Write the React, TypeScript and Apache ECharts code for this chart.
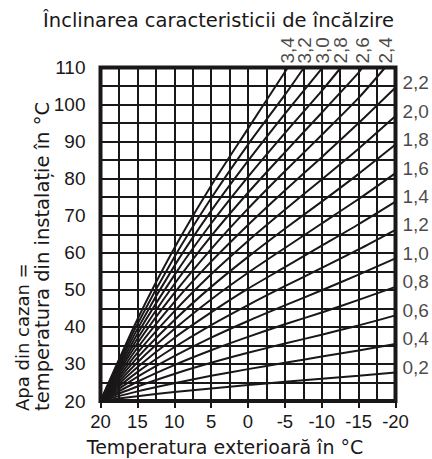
import React, { useEffect, useRef } from "react";
import * as echarts from "echarts";

// Outside temperature (°C) at which curve values are read
const outsideTemps = [20, 15, 10, 5, 0, -5, -10, -15, -20];

// Heating-curve slopes (labels) and boiler-water temperatures read at outsideTemps
const slopeLabels = ["0,2", "0,4", "0,6", "0,8", "1,0", "1,2", "1,4", "1,6", "1,8", "2,0", "2,2", "2,4", "2,6", "2,8", "3,0", "3,2", "3,4"];
const curve02 = [20, 21.3, 22.4, 23.4, 24.3, 25.2, 26.0, 26.8, 27.7];
const curve04 = [20, 22.6, 24.8, 26.8, 28.6, 30.3, 32.0, 33.6, 35.4];
const curve06 = [20, 23.9, 27.3, 30.3, 33.0, 35.5, 37.9, 40.4, 43.1];
const curve08 = [20, 25.2, 29.7, 33.7, 37.3, 40.7, 43.9, 47.3, 50.8];
const curve10 = [20, 26.5, 32.1, 37.1, 41.6, 45.8, 49.9, 54.1, 58.5];
const curve12 = [20, 27.8, 34.5, 40.5, 45.9, 51.0, 55.9, 60.9, 66.2];
const curve14 = [20, 29.1, 37.0, 43.9, 50.3, 56.1, 61.9, 67.7, 73.8];
const curve16 = [20, 30.4, 39.4, 47.4, 54.6, 61.3, 67.9, 74.5, 81.5];
const curve18 = [20, 31.7, 41.8, 50.8, 58.9, 66.5, 73.8, 81.3, 89.2];
const curve20 = [20, 33.0, 44.2, 54.2, 63.2, 71.6, 79.8, 88.1, 96.9];
const curve22 = [20, 34.3, 46.7, 57.6, 67.5, 76.8, 85.8, 95.0, 104.6];
const curve24 = [20, 35.6, 49.1, 61.0, 71.9, 82.0, 91.8, 101.8];
const curve26 = [20, 36.8, 51.5, 64.5, 76.2, 87.1, 97.8, 108.6];
const curve28 = [20, 38.1, 53.9, 67.9, 80.5, 92.3, 103.7];
const curve30 = [20, 39.4, 56.4, 71.3, 84.8, 97.5, 109.7];
const curve32 = [20, 40.7, 58.8, 74.7, 89.2, 102.6];
const curve34 = [20, 42.0, 61.2, 78.1, 93.5];
// Outside temperature where the steep curves reach the top of the chart (110 °C)
const topCrossTemps = [null, null, null, null, null, null, null, null, null, null, null, -18.6, -15.5, -12.6, -10.1, -7.6, -5.4];

const curves = [curve02, curve04, curve06, curve08, curve10, curve12, curve14, curve16, curve18, curve20, curve22, curve24, curve26, curve28, curve30, curve32, curve34];

const yMin = 20;
const yMax = 110;

const title = "Înclinarea caracteristicii de încălzire";
const xName = "Temperatura exterioară în °C";
const yName1 = "Apa din cazan =";
const yName2 = "temperatura din instalație în °C";

const INK = "#1a1718";
const WORD_FONT = "DejaVu Sans";
const NUM_FONT = "Liberation Sans";

export default function App() {
  const ref = useRef<HTMLDivElement>(null);
  useEffect(() => {
    if (!ref.current) return;
    const chart = echarts.init(ref.current, null, { renderer: "svg" });

    const lineSeries = curves.map((vals, i) => {
      const data: number[][] = vals.map((v, j) => [outsideTemps[j], v]);
      const cross = topCrossTemps[i];
      if (cross != null) data.push([cross, yMax]);
      return {
        type: "line",
        data,
        smooth: 0.25,
        symbol: "none",
        showSymbol: false,
        silent: true,
        z: 3,
        lineStyle: { color: INK, width: 2 },
      };
    });

    const labelData = curves.map((vals, i) => {
      const cross = topCrossTemps[i];
      if (cross != null) {
        return {
          value: [cross, yMax, slopeLabels[i]],
          label: {
            position: "top",
            distance: 4,
            rotate: 90,
            align: "left",
            verticalAlign: "middle",
          },
        };
      }
      return {
        value: [outsideTemps[outsideTemps.length - 1], vals[vals.length - 1], slopeLabels[i]],
        label: {
          position: "right",
          distance: 7,
          offset: [0, -5],
        },
      };
    });

    const axisCommon = {
      type: "value",
      axisLine: { show: false },
      axisTick: { show: true, length: 7, lineStyle: { color: INK, width: 2 } },
      splitLine: { show: true, lineStyle: { color: INK, width: 2 } },
      minorTick: { show: false, splitNumber: 2 },
      minorSplitLine: { show: true, lineStyle: { color: INK, width: 2 } },
    };

    chart.setOption({
      animation: false,
      grid: {
        left: 100.5,
        right: 36.5,
        top: 67.5,
        bottom: 58,
        show: true,
        borderColor: INK,
        borderWidth: 4,
      },
      xAxis: {
        ...axisCommon,
        min: -20,
        max: 20,
        interval: 5,
        inverse: true,
        axisLabel: { margin: 11, fontSize: 18.5, fontFamily: NUM_FONT, color: INK },
      },
      yAxis: {
        ...axisCommon,
        min: yMin,
        max: yMax,
        interval: 10,
        axisLabel: { margin: 15, fontSize: 19, fontFamily: NUM_FONT, color: INK },
      },
      series: [
        ...lineSeries,
        {
          type: "scatter",
          symbolSize: 0,
          silent: true,
          z: 5,
          clip: false,
          data: labelData,
          label: {
            show: true,
            formatter: (p: any) => p.value[2],
            fontSize: 19,
            fontFamily: NUM_FONT,
            color: INK,
          },
        },
      ],
      graphic: [
        {
          type: "text",
          x: 218.5,
          y: 20,
          style: { text: title, fontSize: 19.5, fontFamily: WORD_FONT, fill: INK, align: "center", verticalAlign: "middle" },
        },
        {
          type: "text",
          x: 225,
          y: 447,
          style: { text: xName, fontSize: 19, fontFamily: WORD_FONT, fill: INK, align: "center", verticalAlign: "middle" },
        },
        {
          type: "text",
          x: 22.5,
          y: 411,
          rotation: Math.PI / 2,
          style: { text: yName1, fontSize: 18, fontFamily: WORD_FONT, fill: INK, align: "left", verticalAlign: "middle" },
        },
        {
          type: "text",
          x: 42,
          y: 411,
          rotation: Math.PI / 2,
          style: { text: yName2, fontSize: 19.5, fontFamily: WORD_FONT, fill: INK, align: "left", verticalAlign: "middle" },
        },
      ],
    });
    return () => chart.dispose();
  }, []);
  return <div ref={ref} style={{ position: "absolute", left: 0, top: 0, width: 432, height: 459 }} />;
}
